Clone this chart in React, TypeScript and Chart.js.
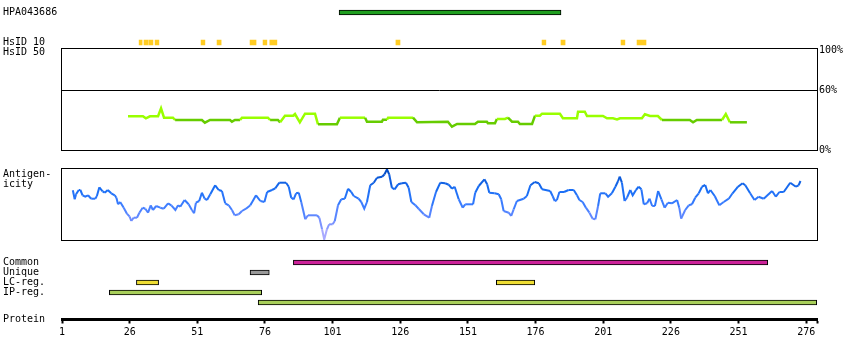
import React, { useEffect, useRef } from 'react';
import { Chart, registerables } from 'chart.js';

Chart.register(...registerables);

const FONT_FAMILY = '"DejaVu Sans Mono", monospace';
Chart.defaults.font.family = FONT_FAMILY;
Chart.defaults.font.size = 10;
Chart.defaults.color = '#000';

// ---------------- DATA ----------------
const PROTEIN_MIN = 1;
const PROTEIN_MAX = 280;
const proteinTicks = [1, 26, 51, 76, 101, 126, 151, 176, 201, 226, 251, 276];

const topRows = ['HPA043686', ' ', '  ', 'HsID 10', 'HsID 50'];
const hpaRange: [number, number] = [103.4, 185.4];
const hsid10Marks: [number, number][] = [
  [29.5, 30.6], [31.3, 32.8], [33.1, 34.6], [35.4, 36.8], [52.4, 53.8], [58.3, 59.8],
  [70.5, 72.7], [75.3, 76.7], [77.8, 80.4], [124.4, 125.9], [178.4, 179.8], [185.4, 186.9],
  [207.6, 209.0], [213.5, 216.8],
];

const hsid50Ticks = [0, 60, 100];
const hsid50Threshold = 30.5;
const hsid50Points: [number, number][] = [
  [25.4, 33.7], [30.9, 33.7], [32.0, 31.7], [33.5, 33.7], [36.5, 33.7], [37.6, 41.7], [38.7, 32.3],
  [42.0, 32.3], [42.8, 30], [52.7, 30], [53.8, 27.3], [55.7, 30], [63.1, 30], [63.8, 28.3],
  [64.9, 30], [66.8, 30], [67.5, 32.3], [77.1, 32.3], [77.9, 30], [80.8, 30], [81.6, 27.7],
  [83.4, 34.3], [86.4, 34.3], [87.1, 36], [88.9, 27.7], [90.8, 36.3], [94.5, 36.3], [95.6, 25.7],
  [102.6, 25.7], [103.7, 32.3], [113.0, 32.3], [113.7, 28.3], [119.2, 28.3], [119.6, 30.2],
  [121.1, 30.2], [121.5, 32.3], [130.7, 32.3], [132.2, 27.7], [143.6, 28.3], [145.1, 23.3],
  [147.0, 26], [153.6, 26], [154.7, 28.3], [158.0, 28.3], [158.4, 26.7], [161.0, 26.7],
  [161.7, 31], [164.7, 31], [165.8, 32.3], [167.3, 28.3], [169.5, 28.3], [170.2, 26],
  [174.7, 26], [175.8, 34.3], [177.6, 34.3], [178.4, 36.3], [185.0, 36.3], [186.1, 31.7],
  [191.3, 31.7], [191.7, 38.3], [194.2, 38.3], [195.0, 34], [200.9, 34], [202.4, 31.7],
  [204.6, 31.7], [206.1, 30.6], [207.2, 31.7], [215.3, 31.7], [216.4, 35.7], [218.3, 34],
  [221.2, 34], [222.7, 30], [233.0, 30], [234.2, 27.7], [235.6, 30], [244.9, 30], [246.3, 36],
  [247.8, 27.7], [254.1, 27.7],
];

const antigenicityPoints: [number, number][] = [
  [5.0, 49.7], [5.7, 40.7], [6.2, 45.7], [7.2, 50], [7.8, 50], [8.6, 44.7], [9.6, 43.3], [10.6, 44.7],
  [11.8, 41.3], [13.3, 41.3], [13.9, 44], [14.8, 52.7], [16.0, 48.7], [16.8, 47.3], [17.9, 50],
  [19.2, 46.7], [20.5, 44.7], [21.1, 42.3], [21.7, 35.7], [22.5, 38], [23.8, 32.3], [25.0, 26.3],
  [26.0, 23.3], [26.6, 19], [27.5, 22.3], [28.7, 22.3], [29.6, 27.3], [30.8, 32.3], [31.8, 31.3],
  [32.8, 27.3], [33.8, 34.7], [34.6, 30], [35.8, 34], [37.3, 32.3], [38.6, 31.3], [40.2, 36.7],
  [41.4, 34.7], [42.9, 30], [43.9, 34.7], [44.7, 33.3], [46.3, 40], [47.8, 35.7], [49.0, 30],
  [49.8, 26.7], [50.5, 37.3], [51.7, 39], [52.7, 47.3], [53.7, 41.3], [54.6, 40], [55.8, 45.7],
  [57.6, 54.7], [58.9, 50], [60.1, 49], [61.3, 36.7], [62.6, 34.7], [63.8, 30], [64.8, 24.7],
  [66.3, 25.7], [67.5, 29], [69.0, 31.3], [70.6, 34.7], [72.7, 44.7], [74.3, 39], [75.8, 38],
  [76.8, 48], [78.6, 50], [79.8, 51.7], [81.3, 57.3], [83.8, 57.3], [84.8, 53.3], [85.7, 42.3],
  [86.6, 40.7], [87.5, 46.7], [88.5, 47.3], [89.4, 38], [90.9, 20.7], [91.9, 24.7], [95.2, 24.7],
  [96.1, 22.3], [97.1, 10.7], [97.9, 0.5], [98.9, 10.7], [99.7, 15.7], [101.0, 15.7], [101.8, 19],
  [103.0, 34.7], [104.2, 40.7], [105.5, 41.3], [106.7, 51.3], [107.9, 48], [108.8, 44],
  [110.6, 41.3], [111.6, 38], [112.7, 31.3], [113.7, 38], [114.9, 54.7], [116.2, 57.3],
  [117.4, 62.3], [119.3, 63.3], [120.2, 65.7], [121.1, 70.7], [121.9, 65.7], [122.9, 52.3],
  [123.9, 50.7], [125.2, 55.7], [126.6, 56.7], [128.1, 57.3], [129.1, 52.3], [130.1, 38],
  [131.6, 34.7], [132.8, 31.3], [134.7, 25.7], [136.7, 22.3], [137.7, 34], [139.2, 48],
  [140.8, 57.3], [142.6, 56.7], [143.9, 55.3], [145.1, 51.3], [146.1, 53.3], [147.6, 40.7],
  [149.1, 32.3], [150.0, 35.7], [152.9, 35.7], [153.7, 47.3], [155.0, 54], [157.1, 60.7],
  [158.1, 55.7], [158.9, 47.3], [160.9, 46.7], [162.4, 45.7], [163.3, 40.7], [164.2, 29],
  [166.1, 27.3], [167.0, 24], [167.9, 30.7], [169.1, 39], [171.6, 41.3], [172.8, 44],
  [174.1, 54.7], [175.7, 58], [177.2, 56.7], [178.4, 50.7], [181.4, 49], [182.3, 44], [183.1, 39],
  [183.9, 40], [184.8, 48], [186.5, 48], [188.2, 50], [190.1, 50], [191.3, 44.7], [192.2, 40],
  [193.4, 38], [194.6, 32.3], [195.9, 27.3], [197.1, 21.3], [198.1, 20.7], [199.1, 34],
  [199.9, 46.7], [201.8, 46.7], [202.8, 43.3], [204.2, 46.7], [205.5, 53.3], [206.5, 59],
  [207.1, 63.3], [207.9, 57.3], [208.9, 39], [209.8, 42.3], [211.0, 50], [211.9, 44.7],
  [213.1, 50], [214.1, 53.3], [215.1, 50.7], [216.0, 35.7], [217.2, 36.7], [218.1, 41.3],
  [219.1, 34], [220.1, 34], [221.3, 49], [222.5, 40.7], [223.7, 32.3], [224.9, 37.3],
  [226.4, 36.7], [228.3, 40], [229.1, 32.3], [229.8, 21.3], [231.3, 30], [232.6, 34.7],
  [233.8, 35.7], [235.0, 42.3], [236.3, 46.7], [237.5, 53.3], [238.7, 55], [239.7, 46.7],
  [240.6, 50], [242.2, 44], [243.9, 34.7], [245.5, 38], [247.4, 41.3], [248.8, 46.7],
  [250.8, 53.3], [252.5, 56.7], [253.5, 54.7], [255.3, 46.7], [256.9, 40], [258.4, 43.3],
  [260.3, 41.3], [263.4, 49], [264.8, 43.3], [266.1, 48], [267.7, 48], [270.1, 57.3],
  [272.2, 53.3], [273.2, 54.7], [273.9, 59],
];
const ANTIGEN_MIN = 0;
const ANTIGEN_MAX = 72;

const featureRows = ['Common', 'Unique', 'LC-reg.', 'IP-reg.', ' '];
const commonRanges: [number, number][] = [[86.5, 261.8]];
const uniqueRanges: [number, number][] = [[70.5, 77.6]];
const lcRanges: [number, number][] = [[28.5, 36.7], [161.5, 175.7]];
const ipRanges: [number, number][] = [[18.5, 74.8]];
const ipRanges2: [number, number][] = [[73.5, 279.9]];

// ---------------- STYLE HELPERS ----------------
const antigenStops: [number, [number, number, number]][] = [
  [0, [190, 180, 255]],
  [20, [110, 140, 255]],
  [35, [60, 125, 255]],
  [50, [25, 110, 245]],
  [72, [0, 70, 190]],
];
function antigenColor(v: number) {
  if (v <= antigenStops[0][0]) return `rgb(${antigenStops[0][1].join(',')})`;
  for (let i = 1; i < antigenStops.length; i++) {
    const [v1, c1] = antigenStops[i];
    const [v0, c0] = antigenStops[i - 1];
    if (v <= v1) {
      const t = (v - v0) / (v1 - v0);
      const c = c0.map((a, k) => Math.round(a + (c1[k] - a) * t));
      return `rgb(${c.join(',')})`;
    }
  }
  return `rgb(${antigenStops[antigenStops.length - 1][1].join(',')})`;
}

const framePlugin = {
  id: 'frame',
  afterDraw(chart: any) {
    const { ctx, chartArea } = chart;
    ctx.save();
    ctx.strokeStyle = '#000';
    ctx.lineWidth = 1;
    ctx.strokeRect(chartArea.left - 0.5, chartArea.top + 0.5, chartArea.right - chartArea.left + 1, chartArea.bottom - chartArea.top);
    ctx.restore();
  },
};

const sideTextPlugin = {
  id: 'sideText',
  afterDraw(chart: any, _args: any, opts: any) {
    const { ctx } = chart;
    ctx.save();
    ctx.font = `10px ${FONT_FAMILY}`;
    ctx.fillStyle = '#000';
    ctx.textBaseline = 'middle';
    ctx.textAlign = 'left';
    (opts.items || []).forEach((it: any) => ctx.fillText(it.text, it.x, it.y));
    ctx.restore();
  },
};

const baseOptions = {
  responsive: false,
  animation: false as const,
  devicePixelRatio: 1,
  events: [] as any[],
};

const hiddenX = { type: 'linear' as const, min: PROTEIN_MIN, max: PROTEIN_MAX, display: false };

const trackY = {
  type: 'category' as const,
  grid: { display: false },
  border: { display: false },
  ticks: { autoSkip: false, crossAlign: 'far' as const, color: '#000', padding: 0, font: { family: FONT_FAMILY, size: 10 } },
  afterFit: (s: any) => { s.width = 59; s.paddingTop = 0; s.paddingBottom = 0; },
};

const rangeBars = (ranges: [number, number][], row: string, color: string, border: boolean) => ({
  data: ranges.map((r) => ({ x: r, y: row })),
  backgroundColor: color,
  borderColor: '#000',
  borderWidth: border ? 1 : 0,
  borderSkipped: false,
  barThickness: 5,
  grouped: false,
});

// ---------------- CHARTS ----------------
function ChartBox({ top, height, make }: { top: number; height: number; make: () => any }) {
  const ref = useRef<HTMLCanvasElement | null>(null);
  useEffect(() => {
    const chart = new Chart(ref.current as HTMLCanvasElement, make());
    return () => chart.destroy();
  }, []);
  return (
    <div style={{ position: 'absolute', left: 0, top, width: 850, height }}>
      <canvas ref={ref} width={850} height={height} style={{ display: 'block', width: 850, height }} />
    </div>
  );
}

const makeTop = () => ({
  type: 'bar',
  data: {
    labels: topRows,
    datasets: [
      rangeBars([hpaRange], 'HPA043686', '#1f9e1f', true),
      rangeBars(hsid10Marks, 'HsID 10', '#ffcc22', false),
    ],
  },
  options: {
    ...baseOptions,
    indexAxis: 'y',
    layout: { padding: { left: 3, right: 33, top: 7.5, bottom: 2.5 } },
    plugins: { legend: { display: false }, tooltip: { enabled: false } },
    scales: { x: hiddenX, y: trackY },
  },
});

const makeHsid = () => ({
  type: 'line',
  data: {
    datasets: [
      {
        data: hsid50Points.map(([x, y]) => ({ x, y })),
        borderColor: '#66cc00',
        borderWidth: 2.5,
        pointRadius: 0,
        fill: false,
        tension: 0,
        segment: {
          borderColor: (ctx: any) =>
            (ctx.p0.parsed.y + ctx.p1.parsed.y) / 2 >= hsid50Threshold ? '#99ff00' : '#66cc00',
        },
      },
    ],
  },
  options: {
    ...baseOptions,
    layout: { padding: { left: 62, right: 0, top: 8, bottom: 10 } },
    plugins: { legend: { display: false }, tooltip: { enabled: false } },
    scales: {
      x: hiddenX,
      y: {
        type: 'linear',
        position: 'right',
        min: 0,
        max: 102,
        afterBuildTicks: (s: any) => { s.ticks = hsid50Ticks.map((v) => ({ value: v })); },
        afterFit: (s: any) => { s.width = 33; s.paddingTop = 0; s.paddingBottom = 0; },
        ticks: { callback: (v: any) => `${v}%`, color: '#000', padding: 2, font: { family: FONT_FAMILY, size: 10 } },
        grid: {
          drawTicks: false,
          lineWidth: 1,
          color: (ctx: any) => (ctx.tick && ctx.tick.value === 60 ? '#000' : 'rgba(0,0,0,0)'),
        },
        border: { display: false },
      },
    },
  },
  plugins: [framePlugin],
});

const makeAntigen = () => ({
  type: 'line',
  data: {
    datasets: [
      {
        data: antigenicityPoints.map(([x, y]) => ({ x, y })),
        borderColor: '#1f6cf0',
        borderWidth: 2,
        pointRadius: 0,
        fill: false,
        tension: 0,
        segment: {
          borderColor: (ctx: any) => antigenColor((ctx.p0.parsed.y + ctx.p1.parsed.y) / 2),
        },
      },
    ],
  },
  options: {
    ...baseOptions,
    layout: { padding: { left: 62, right: 33, top: 8, bottom: 8 } },
    plugins: {
      legend: { display: false },
      tooltip: { enabled: false },
      sideText: { items: [{ text: 'Antigen-', x: 3, y: 14 }, { text: 'icity', x: 3, y: 24 }] },
    },
    scales: {
      x: hiddenX,
      y: { type: 'linear', min: ANTIGEN_MIN, max: ANTIGEN_MAX, display: false },
    },
  },
  plugins: [framePlugin, sideTextPlugin],
});

const makeFeatures = () => ({
  type: 'bar',
  data: {
    labels: featureRows,
    datasets: [
      rangeBars(commonRanges, 'Common', '#cc2299', true),
      rangeBars(uniqueRanges, 'Unique', '#999999', true),
      rangeBars(lcRanges, 'LC-reg.', '#eedd33', true),
      rangeBars(ipRanges, 'IP-reg.', '#a8cf5a', true),
      rangeBars(ipRanges2, ' ', '#a8cf5a', true),
    ],
  },
  options: {
    ...baseOptions,
    indexAxis: 'y',
    layout: { padding: { left: 3, right: 33, top: 7.5, bottom: 2.5 } },
    plugins: { legend: { display: false }, tooltip: { enabled: false } },
    scales: { x: hiddenX, y: trackY },
  },
});

const makeProtein = () => ({
  type: 'line',
  data: { datasets: [] },
  options: {
    ...baseOptions,
    layout: { padding: { left: 62, right: 33, top: 0, bottom: 0 } },
    plugins: {
      legend: { display: false },
      tooltip: { enabled: false },
      sideText: { items: [{ text: 'Protein', x: 3, y: 19.5 }] },
    },
    scales: {
      x: {
        type: 'linear',
        position: 'bottom',
        min: PROTEIN_MIN,
        max: PROTEIN_MAX,
        afterBuildTicks: (s: any) => { s.ticks = [...proteinTicks, PROTEIN_MAX].map((v) => ({ value: v })); },
        afterFit: (s: any) => { s.height = 30.5; },
        ticks: {
          autoSkip: false,
          maxRotation: 0,
          color: '#000',
          padding: 3,
          font: { family: FONT_FAMILY, size: 10 },
          callback: (v: any) => (proteinTicks.includes(v) ? String(v) : ''),
        },
        grid: { drawOnChartArea: false, drawTicks: true, tickLength: 4, tickWidth: 2, tickColor: '#000' },
        border: { display: true, color: '#000', width: 3 },
      },
      y: { display: false },
    },
  },
  plugins: [sideTextPlugin],
});

export default function App() {
  return (
    <div style={{ position: 'absolute', left: 0, top: 0, width: 850, height: 360, background: '#fff' }}>
      <ChartBox top={0} height={60} make={makeTop} />
      <ChartBox top={40} height={120} make={makeHsid} />
      <ChartBox top={160} height={88} make={makeAntigen} />
      <ChartBox top={250} height={60} make={makeFeatures} />
      <ChartBox top={300} height={50} make={makeProtein} />
    </div>
  );
}
